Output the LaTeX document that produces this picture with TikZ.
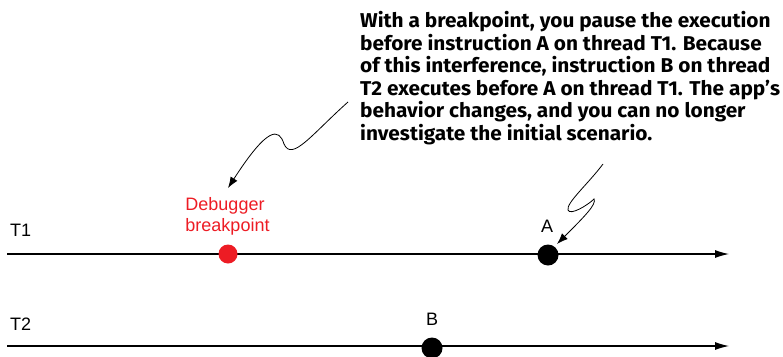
\documentclass[tikz,border=0pt]{standalone}
\usepackage{fontspec}
\setmainfont{Liberation Sans}
\newfontfamily\notefont[FakeStretch=1.04]{Fira Sans}
\usetikzlibrary{arrows.meta}
\definecolor{bpred}{RGB}{237,28,36}
\tikzset{
  timeline/.style={line width=1.1pt,-{Latex[length=14pt,width=8pt]}},
  evdot/.style={circle,fill=black,inner sep=0pt,minimum size=21pt},
  bpdot/.style={circle,fill=bpred,inner sep=0pt,minimum size=19pt},
  lbl/.style={font=\fontsize{18}{21}\selectfont,inner sep=0pt,anchor=base},
  note/.style={font=\notefont\bfseries\fontsize{20}{22.5}\selectfont,align=left,inner sep=0pt,anchor=north west},
  callout/.style={line width=0.8pt,-{Latex[length=11pt,width=8pt]}}
}
\begin{document}
\begin{tikzpicture}[x=1pt,y=-1pt]
\useasboundingbox (0,0) rectangle (783,356);
% timelines
\coordinate (t1s) at (7,254);
\coordinate (t1e) at (729,254);
\coordinate (t2s) at (7,346);
\coordinate (t2e) at (729,346);
\draw[timeline] (t1s) -- (t1e);
\draw[timeline] (t2s) -- (t2e);
\node[lbl,anchor=base west] (lt1) at (10,236.5) {T1};
\node[lbl,anchor=base west] (lt2) at (10,330) {T2};
% events
\node[bpdot] (bp) at (228,254) {};
\node[evdot] (a) at (548,255) {};
\node[evdot] (b) at (432,348) {};
\node[lbl] (la) at (547,232.7) {A};
\node[lbl] (lb) at (432,325.7) {B};
\node[lbl,text=bpred] (lbp1) at (225,210) {Debugger};
\node[lbl,text=bpred] (lbp2) at (227.5,231) {breakpoint};
% note
\node[note] (note) at (360,11.5) {With a breakpoint, you pause the execution\\before instruction A on thread T1. Because\\of this interference, instruction B on thread\\T2 executes before A on thread T1. The app’s\\behavior changes, and you can no longer\\investigate the initial scenario.};
% callouts
\coordinate (c1) at (348,102);
\coordinate (c2) at (603,164);
\coordinate (e1) at (228,188);
\coordinate (e2) at (557,244);
\draw[callout] (c1) .. controls (312,134) and (292,162) .. (284,144)
  .. controls (279,128) and (268,126) .. (e1);
\draw[callout] (c2) .. controls (588,184) and (566,203) .. (568,210)
  .. controls (570,216) and (588,205) .. (594,199)
  .. controls (597,204) and (584,217) .. (e2);
\end{tikzpicture}
\end{document}
